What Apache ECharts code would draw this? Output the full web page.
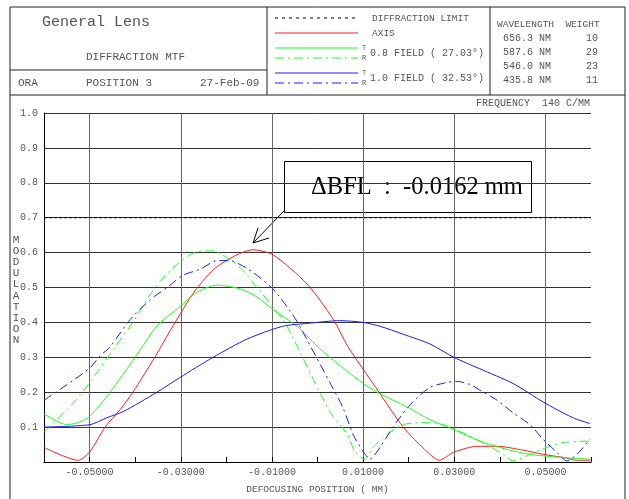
<!DOCTYPE html>
<html>
<head>
<meta charset="utf-8">
<script src="https://cdn.jsdelivr.net/npm/echarts@6/dist/echarts.min.js"></script>
<style>
  html, body { margin: 0; padding: 0; background: #fff; }
  #chart { width: 629px; height: 499px; }
</style>
</head>
<body>
<div id="chart"></div>
<script>
// defocus position (mm) vs modulation
const axisCurve = [
  [-0.060, 0.042], [-0.0525, 0.005], [-0.0499, 0.03], [-0.0466, 0.10], [-0.0433, 0.15],
  [-0.0405, 0.20], [-0.0357, 0.30], [-0.0317, 0.39], [-0.0269, 0.49], [-0.0220, 0.56],
  [-0.0142, 0.608], [-0.0098, 0.594], [-0.0023, 0.51], [0.0034, 0.41], [0.0067, 0.33],
  [0.0135, 0.20], [0.0188, 0.10], [0.0240, 0.03], [0.0267, 0.005], [0.0299, 0.028],
  [0.0350, 0.045], [0.0394, 0.045], [0.0451, 0.034], [0.0495, 0.022], [0.0539, 0.013],
  [0.0569, 0.005], [0.0600, 0.005]
];
const field08T = [
  [-0.060, 0.138], [-0.0550, 0.107], [-0.0525, 0.113], [-0.0499, 0.132], [-0.0455, 0.20],
  [-0.0400, 0.30], [-0.0352, 0.39], [-0.0302, 0.445], [-0.0264, 0.487], [-0.0220, 0.507],
  [-0.0170, 0.496], [-0.0133, 0.473], [-0.0098, 0.437], [-0.0045, 0.389], [-0.0001, 0.332],
  [0.0027, 0.30], [0.0100, 0.225], [0.0135, 0.197], [0.0196, 0.158], [0.0247, 0.121],
  [0.0299, 0.093], [0.0356, 0.06], [0.0416, 0.036], [0.0466, 0.022], [0.0525, 0.014],
  [0.0598, 0.008]
];
const field08R = [
  [-0.060, 0.085], [-0.0528, 0.18], [-0.0484, 0.256], [-0.0444, 0.33], [-0.0405, 0.40],
  [-0.0367, 0.48], [-0.0330, 0.54], [-0.0295, 0.58], [-0.0264, 0.603], [-0.0229, 0.605],
  [-0.0199, 0.586], [-0.0170, 0.558], [-0.0133, 0.50], [-0.0098, 0.445], [-0.0067, 0.389],
  [0.0027, 0.144], [0.0065, 0.08], [0.0082, 0.03], [0.0104, 0.008], [0.0122, 0.042],
  [0.0152, 0.079], [0.0188, 0.107], [0.0231, 0.113], [0.0275, 0.107], [0.0356, 0.06],
  [0.0407, 0.022], [0.0429, 0.003], [0.0466, 0.022], [0.0503, 0.042], [0.0539, 0.056],
  [0.0598, 0.06]
];
const field10T = [
  [-0.060, 0.10], [-0.0499, 0.107], [-0.0462, 0.127], [-0.0427, 0.144], [-0.0352, 0.20],
  [-0.0302, 0.242], [-0.0229, 0.30], [-0.0155, 0.352], [-0.0076, 0.389], [-0.0023, 0.397],
  [0.0049, 0.405], [0.0100, 0.40], [0.0137, 0.389], [0.0188, 0.366], [0.0247, 0.338],
  [0.0299, 0.30], [0.0356, 0.267], [0.0429, 0.225], [0.0495, 0.172], [0.0560, 0.127],
  [0.0598, 0.11]
];
const field10R = [
  [-0.060, 0.177], [-0.0536, 0.234], [-0.0499, 0.27], [-0.0477, 0.304], [-0.0455, 0.33],
  [-0.0411, 0.408], [-0.0367, 0.465], [-0.0330, 0.50], [-0.0295, 0.535], [-0.0258, 0.552],
  [-0.0220, 0.577], [-0.0192, 0.577], [-0.0170, 0.566], [-0.0142, 0.544], [-0.0098, 0.496],
  [-0.0067, 0.445], [-0.0045, 0.403], [-0.0027, 0.36], [0.0027, 0.228], [0.0056, 0.155],
  [0.0078, 0.079], [0.0100, 0.031], [0.0115, 0.008], [0.0137, 0.042], [0.0174, 0.116],
  [0.0209, 0.172], [0.0247, 0.214], [0.0284, 0.228], [0.0306, 0.231], [0.0335, 0.222],
  [0.0356, 0.206], [0.0394, 0.177], [0.0429, 0.141], [0.0466, 0.107], [0.0495, 0.065],
  [0.0525, 0.028], [0.0547, 0.003], [0.0569, 0.022], [0.0598, 0.065]
];
const diffractionLimit = [[-0.06, 0.70], [0.06, 0.70]];

const wavelengths = ['656.3 NM', '587.6 NM', '546.0 NM', '435.8 NM'];
const weights = ['10', '29', '23', '11'];

const MONO = '"Liberation Mono", "DejaVu Sans Mono", monospace';
const SERIF = '"Liberation Serif", "DejaVu Serif", serif';
const TXT = '#555';
const RED = '#ff1a1a', GREEN = '#1aff1a', BLUE = '#1a1aff';
const DASHDOT = [9, 4, 2, 4];

const chart = echarts.init(document.getElementById('chart'));

function txt(x, y, text, opt) {
  return {
    type: 'text', x: x, y: y, silent: true,
    style: Object.assign({ text: text, fill: TXT, font: '10px ' + MONO, textVerticalAlign: 'middle' }, opt || {})
  };
}
function ln(x1, y1, x2, y2, stroke, dash) {
  return {
    type: 'line', silent: true,
    shape: { x1: x1, y1: y1, x2: x2, y2: y2 },
    style: { stroke: stroke || '#000', lineWidth: 1, lineDash: dash || null }
  };
}

const graphics = [
  // frame
  ln(10, 7, 625, 7, '#222'), ln(10, 7, 10, 499, '#222'), ln(625, 7, 625, 499, '#222'),
  ln(10, 95, 625, 95, '#222'), ln(10, 70, 267, 70, '#222'),
  ln(267, 7, 267, 95, '#222'), ln(490, 7, 490, 95, '#222'),
  // title block
  txt(42, 22, 'General Lens', { font: '15px ' + MONO }),
  txt(86, 57, 'DIFFRACTION MTF', { font: '11px ' + MONO }),
  txt(18, 83, 'ORA', { font: '11px ' + MONO }),
  txt(86, 83, 'POSITION 3', { font: '11px ' + MONO }),
  txt(200, 83, '27-Feb-09', { font: '11px ' + MONO }),
  // legend
  ln(275, 18, 358, 18, '#000', [3, 4]),
  ln(275, 33, 358, 33, RED),
  ln(275, 48, 358, 48, GREEN),
  ln(275, 58, 358, 58, GREEN, DASHDOT),
  ln(275, 73, 358, 73, BLUE),
  ln(275, 83, 358, 83, BLUE, DASHDOT),
  txt(372, 18, 'DIFFRACTION LIMIT', { font: '9.5px ' + MONO }),
  txt(372, 33, 'AXIS', { font: '9.5px ' + MONO }),
  txt(362, 48, 'T', { font: '7px ' + MONO }),
  txt(362, 58, 'R', { font: '7px ' + MONO }),
  txt(370, 53, '0.8 FIELD ( 27.03\u00b0)', { font: '10px ' + MONO }),
  txt(362, 73, 'T', { font: '7px ' + MONO }),
  txt(362, 83, 'R', { font: '7px ' + MONO }),
  txt(370, 78, '1.0 FIELD ( 32.53\u00b0)', { font: '10px ' + MONO }),
  // wavelength table
  txt(497, 24, 'WAVELENGTH  WEIGHT', { font: '9.5px ' + MONO }),
  txt(590, 103, 'FREQUENCY  140 C/MM', { font: '10px ' + MONO, textAlign: 'right' }),
  // y axis title
  txt(16, 290, 'MODULATION'.split('').join('\n'), { font: '11px ' + MONO, textAlign: 'center', lineHeight: 11.2 }),
  // annotation
  {
    type: 'rect', silent: true,
    shape: { x: 284.5, y: 161.5, width: 247, height: 51 },
    style: { fill: '#fff', stroke: '#000', lineWidth: 1 }
  },
  txt(417, 188, '\u0394BFL  :  -0.0162 mm', { font: '24.5px ' + SERIF, fill: '#000', textAlign: 'center' }),
  ln(284, 211, 253, 243),
  ln(253, 243, 258, 228),
  ln(253, 243, 269, 238)
];
wavelengths.forEach(function (w, i) {
  graphics.push(txt(503, 38 + i * 14, w, { font: '10px ' + MONO }));
  graphics.push(txt(598, 38 + i * 14, weights[i], { font: '10px ' + MONO, textAlign: 'right' }));
});

function curve(name, data, color, dash) {
  return {
    name: name, type: 'line', data: data, showSymbol: false, smooth: 0.25,
    lineStyle: { color: color, width: 1, type: dash || 'solid' }, z: 3
  };
}

const option = {
  animation: false,
  backgroundColor: '#fff',
  grid: { left: 44, right: 38, top: 113, bottom: 31, containLabel: false },
  xAxis: {
    type: 'value', min: -0.06, max: 0.06, interval: 0.01,
    name: 'DEFOCUSING POSITION ( MM)', nameLocation: 'middle', nameGap: 22,
    nameTextStyle: { fontFamily: MONO, fontSize: 9.5, color: TXT },
    axisLine: { show: true, onZero: false, lineStyle: { color: '#000' } },
    axisTick: { show: true, inside: true, length: 5, lineStyle: { color: '#000' } },
    axisLabel: {
      fontFamily: MONO, fontSize: 10, color: TXT, margin: 5,
      formatter: function (v) { return Math.round(v * 100) % 2 !== 0 ? v.toFixed(5) : ''; }
    },
    splitLine: { show: true, lineStyle: { color: ['rgba(0,0,0,0)', '#666'], width: 1 } }
  },
  yAxis: {
    type: 'value', min: 0, max: 1, interval: 0.1,
    axisLine: { show: true, onZero: false, lineStyle: { color: '#000' } },
    axisTick: { show: false },
    axisLabel: {
      fontFamily: MONO, fontSize: 10, color: TXT, margin: 6,
      formatter: function (v) { return v === 0 ? '' : v.toFixed(1); }
    },
    splitLine: { show: true, lineStyle: { color: '#333', width: 1 } }
  },
  series: [
    {
      name: 'DIFFRACTION LIMIT', type: 'line', data: diffractionLimit, showSymbol: false,
      lineStyle: { color: '#000', width: 1, type: [3, 2] }, z: 2
    },
    curve('AXIS', axisCurve, RED),
    curve('0.8 FIELD T', field08T, GREEN),
    curve('0.8 FIELD R', field08R, GREEN, DASHDOT),
    curve('1.0 FIELD T', field10T, BLUE),
    curve('1.0 FIELD R', field10R, BLUE, DASHDOT)
  ],
  graphic: { elements: graphics }
};

chart.setOption(option);
</script>
</body>
</html>
